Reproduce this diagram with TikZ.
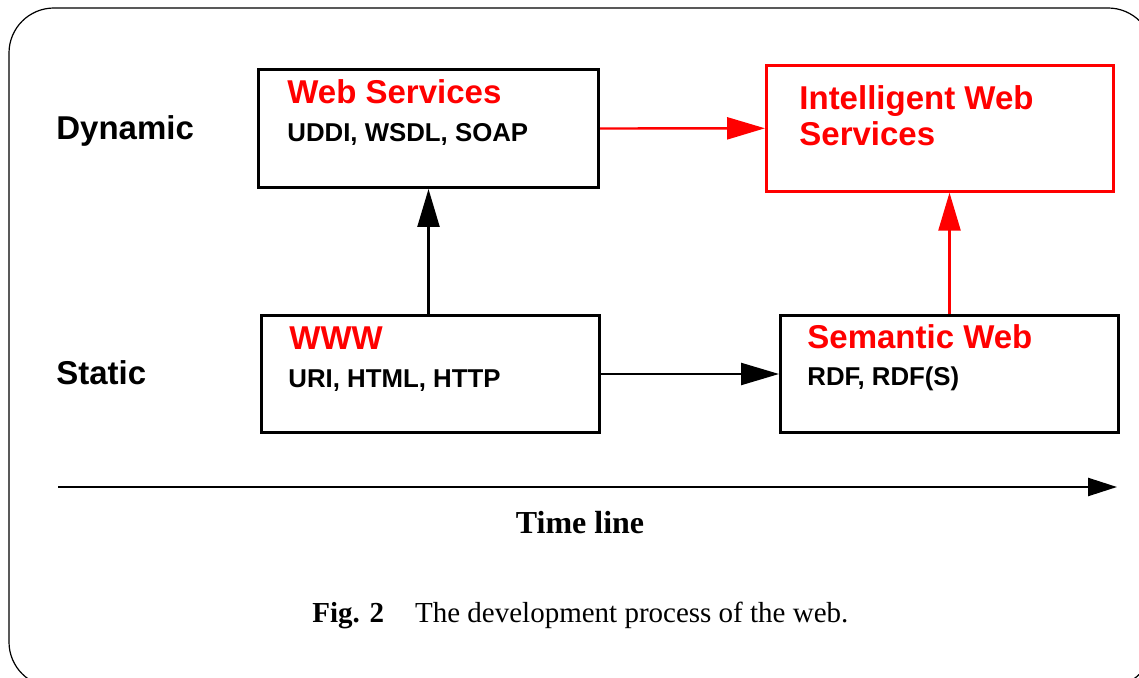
\documentclass[tikz,border=0pt]{standalone}
\usepackage{fontspec}
\setmainfont{Liberation Serif}
\setsansfont{Liberation Sans}
\usepackage{tikz}
\usetikzlibrary{arrows.meta,positioning,calc}

\begin{document}
\begin{tikzpicture}[x = .5pt, y = -.5pt,
  box/.style = {draw, line width = 1.5pt, anchor = north west, inner sep = 0pt},
  title/.style = {anchor = base west, inner sep = 0pt, text = red, align = left, font = \sffamily\bfseries\fontsize{16.5}{18}\selectfont},
  sub/.style = {anchor = base west, inner sep = 0pt, font = \sffamily\bfseries\fontsize{12.9}{15}\selectfont},
  lvl/.style = {anchor = base west, inner sep = 0pt, font = \sffamily\bfseries\fontsize{16.5}{18}\selectfont},
  >={Triangle[length = 19pt, width = 11pt]}]
  \useasboundingbox (0,0) rectangle (1139,678);
  \begin{scope}
    \clip (0,0) rectangle (1139,678);
    \draw[line width = .6pt, rounded corners = 22.5pt] (9,8) rectangle (1153,687);
  \end{scope}
  % boxes
  \node[box, minimum width = 170pt, minimum height = 59pt] (ws) at (257,68) {};
  \node[box, draw = red, line width = 1.3pt, minimum width = 173.5pt, minimum height = 63pt] (iws) at (765,64) {};
  \node[box, minimum width = 169pt, minimum height = 58.5pt] (www) at (260,314) {};
  \node[box, minimum width = 169pt, minimum height = 58.5pt] (sw) at (779,314) {};
  % texts
  \node[title] (ws-t) at (287,104) {Web Services};
  \node[sub] (ws-s) at (287,142) {UDDI, WSDL, SOAP};
  \node[title] (iws-t) at (799,146) {Intelligent Web\\Services};
  \node[title] (www-t) at (289,350) {WWW};
  \node[sub] (www-s) at (288,387) {URI, HTML, HTTP};
  \node[title] (sw-t) at (807,349) {Semantic Web};
  \node[sub] (sw-s) at (807,386) {RDF, RDF(S)};
  \node[lvl] (dyn) at (56,140) {Dynamic};
  \node[lvl] (sta) at (56,385) {Static};
  % arrows
  \draw[->, line width = 1.2pt] (ws.south |- www.north) -- (ws.south);
  \draw[->, line width = 1.2pt] (www.east) -- (sw.west);
  \draw[->, red, line width = 1.2pt] (ws.east) -- (iws.west);
  \draw[->, red, line width = 1.2pt] (sw.north) -- (sw.north |- iws.south);
  % time line
  \coordinate (tl-a) at (58,487);
  \coordinate (tl-b) at (1117,487);
  \draw[-{Triangle[length = 14.5pt, width = 9pt]}, line width = 1.2pt] (tl-a) -- (tl-b);
  \node[anchor = base, inner sep = 0pt, font = \bfseries\fontsize{16}{18}\selectfont] (tl) at (580,533) {Time line};
  \node[anchor = base west, inner sep = 0pt, font = \fontsize{14.5}{17}\selectfont] (cap) at (312,622) {\textbf{Fig. 2}\hspace{15.5pt}The development process of the web.};
\end{tikzpicture}
\end{document}
